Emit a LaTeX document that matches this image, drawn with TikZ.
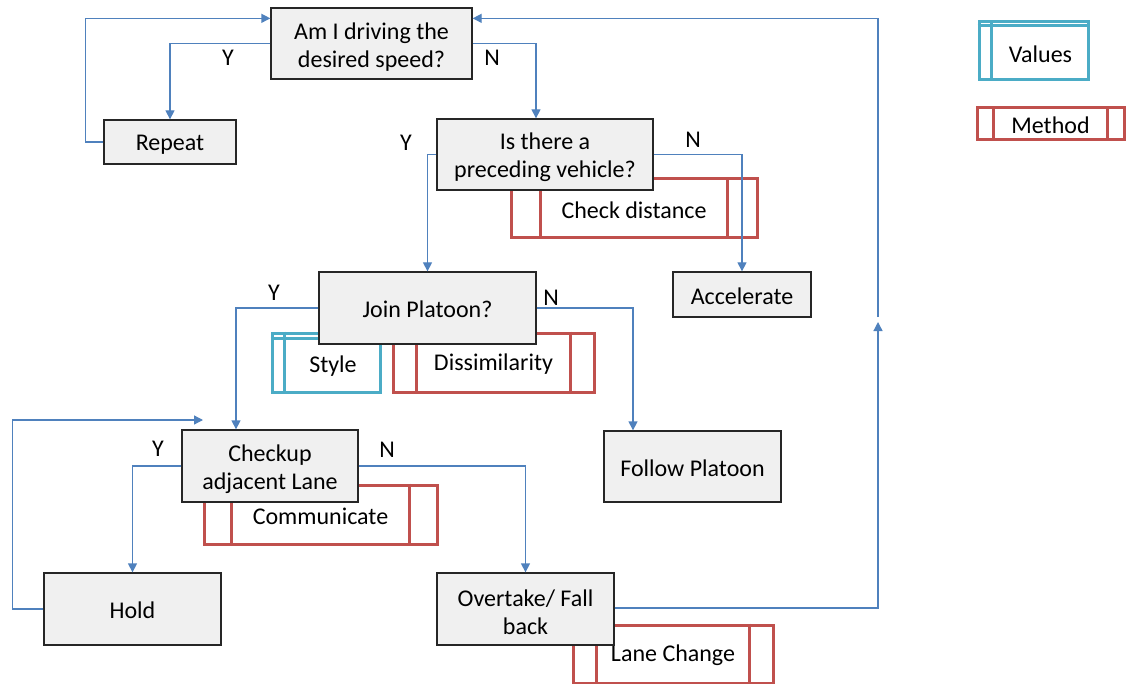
\documentclass[tikz,border=0pt]{standalone}
\usepackage{fontspec}
\setmainfont{Carlito}
\usetikzlibrary{arrows.meta,calc}
\definecolor{flowblue}{HTML}{4F81BD}
\definecolor{methodred}{HTML}{C0504D}
\definecolor{valueteal}{HTML}{4BACC6}
\definecolor{boxfill}{HTML}{F0F0F0}
\definecolor{boxline}{HTML}{262626}

% inner bars of a method box: #1 node name, #2 distance from the sides
\newcommand\methodbars[2]{%
  \draw[methodred, line width=3pt]
    ([xshift=#2]#1.north west) -- ([xshift=#2]#1.south west)
    ([xshift=-#2]#1.north east) -- ([xshift=-#2]#1.south east);}
% inner bars of a values box: #1 node name, #2 left bar offset, #3 top bar offset
\newcommand\valuebars[3]{%
  \draw[valueteal, line width=3pt]
    ([xshift=#2]#1.north west) -- ([xshift=#2]#1.south west)
    ([yshift=-#3]#1.north west) -- ([yshift=-#3]#1.north east);}
% taller first row for two-line labels
\newcommand\ftrule{\rule{0pt}{23pt}}

\begin{document}
\begin{tikzpicture}[x=1pt, y=-1pt,
  font=\fontsize{24}{28}\selectfont,
  firstline/.style={execute at begin node={\rule{0pt}{20pt}}},
  process/.style={draw=boxline, line width=1.3pt, fill=boxfill, align=center, inner sep=0pt, firstline},
  methodbox/.style={draw=methodred, line width=3pt, fill=white, inner sep=0pt, firstline},
  valuebox/.style={draw=valueteal, line width=3pt, fill=white, inner sep=0pt},
  link/.style={draw=flowblue, line width=1.3pt},
  conn/.style={link, -{Triangle[length=9pt,width=9pt]}},
  answer/.style={inner sep=0pt}]

\useasboundingbox (0,0) rectangle (1131,684);

% ---- method and value boxes (behind the process boxes)
\node[methodbox, minimum width=246pt, minimum height=59pt] (cd) at (634,208.5) {Check distance};
\methodbars{cd}{31pt}
\node[methodbox, minimum width=201pt, minimum height=59pt] (dis) at (493.5,362.5) {Dissimilarity};
\methodbars{dis}{25pt}
\node[methodbox, minimum width=233pt, minimum height=59pt] (com) at (320.5,514.5) {Communicate};
\methodbars{com}{29pt}
\node[methodbox, minimum width=200pt, minimum height=58pt] (lc) at (673,654) {Lane Change};
\methodbars{lc}{25pt}

\node[valuebox, minimum width=108pt, minimum height=59pt] (sty) at (326,362.5) {};
\valuebars{sty}{14pt}{7pt}
\node (styt) at ($(sty.center)+(7,4)$) {Style};

% ---- legend
\node[valuebox, minimum width=109pt, minimum height=58pt] (lv) at (1033.5,51) {};
\valuebars{lv}{14pt}{5pt}
\node (lvt) at ($(lv.center)+(7,3)$) {Values};
\node[methodbox, minimum width=147pt, minimum height=32pt] (lm) at (1050.5,124) {Method};
\methodbars{lm}{18pt}

% ---- process boxes
\node[process, minimum width=201pt, minimum height=71pt] (A) at (371.5,43.5) {\ftrule Am I driving the\\desired speed?};
\node[process, minimum width=132pt, minimum height=44pt] (R) at (170,142) {Repeat};
\node[process, minimum width=216pt, minimum height=71pt] (B) at (545,154.5) {\ftrule Is there a\\preceding vehicle?};
\node[process, minimum width=138pt, minimum height=45pt] (Acc) at (742,294.5) {Accelerate};
\node[process, minimum width=217pt, minimum height=72pt] (J) at (427.5,308) {Join Platoon?};
\node[process, minimum width=177pt, minimum height=71pt] (F) at (692.5,466.5) {Follow Platoon};
\node[process, minimum width=176pt, minimum height=72pt] (C) at (270,466) {\ftrule Checkup\\adjacent Lane};
\node[process, minimum width=177pt, minimum height=72pt] (H) at (132.5,609) {Hold};
\node[process, minimum width=177pt, minimum height=72pt] (O) at (525.5,609) {\ftrule Overtake/ Fall\\back};

% ---- free ends of connectors
\coordinate (hl) at (203,420);
\coordinate (up) at (878,322);
\coordinate (upstart) at (878,317);

% ---- connectors
\draw[conn] (R.west) -- ++(-18,0) |- ([yshift=-11pt]A.north west);
\draw[conn] (A.west) -| (R.north);
\draw[conn] (A.east) -| ([xshift=-9pt]B.north);
\draw[conn] (B.west) -| (J.north);
\draw[conn] (B.east) -| (Acc.north);
\draw[conn] (J.west) -| ([xshift=-34pt]C.north);
\draw[conn] (J.east) -| ([xshift=-59.5pt]F.north);
\draw[conn] (C.west) -| (H.north);
\draw[conn] (C.east) -| (O.north);
\draw[conn] (H.west) -- ++(-31,0) |- (hl);
\draw[conn] ([yshift=1pt]O.east) -| (up);
\draw[conn] (upstart) |- ([yshift=-11pt]A.north east);

% ---- answers
\node[answer] (ay) at (228,58) {Y};
\node[answer] (an) at (492,58) {N};
\node[answer] (by) at (406,143) {Y};
\node[answer] (bn) at (693,140) {N};
\node[answer] (jy) at (274,293) {Y};
\node[answer] (jn) at (551,298) {N};
\node[answer] (cy) at (158,449) {Y};
\node[answer] (cn) at (387,450) {N};
\end{tikzpicture}
\end{document}
